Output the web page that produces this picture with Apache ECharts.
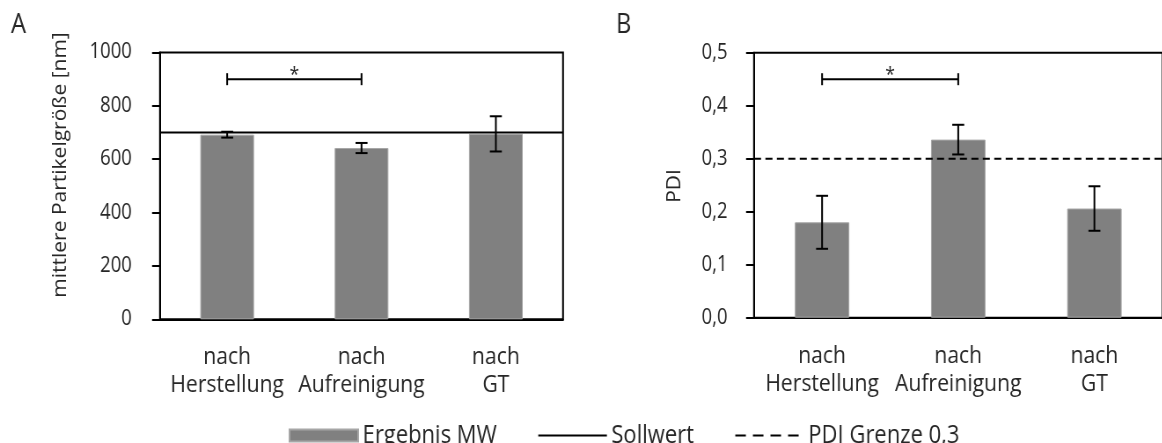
<!DOCTYPE html>
<html>
<head>
<meta charset="utf-8">
<script src="https://cdn.jsdelivr.net/npm/echarts@6/dist/echarts.min.js"></script>
<style>
  html, body { margin: 0; padding: 0; background: #fff; overflow: hidden; }
  #chart { width: 1321px; height: 443px; transform: scaleX(0.88); transform-origin: 0 0; }
</style>
</head>
<body>
<div id="chart"></div>
<script>
// ---- data ----
const CATEGORIES = ['nach\nHerstellung', 'nach\nAufreinigung', 'nach\nGT'];
const SIZE_MEAN = [692, 642, 695];
const SIZE_ERR = [11, 19, 66];
const SIZE_SOLL = 700;
const PDI_MEAN = [0.18, 0.336, 0.206];
const PDI_ERR = [0.05, 0.028, 0.042];
const PDI_LIMIT = 0.3;
const SIG_SIZE = [0, 1, 900];   // from category, to category, height
const SIG_PDI = [0, 1, 0.45];
const SIZE_AXIS = [0, 1000, 200];
const PDI_AXIS = [0, 0.5, 0.1];

const FONT = "'Open Sans', 'Noto Sans', sans-serif";
const TXT = '#262626';

const errData = (mean, err) => mean.map((m, i) => [i, m - err[i], m + err[i]]);

function renderErr(params, api) {
  const lo = api.coord([api.value(0), api.value(1)]);
  const hi = api.coord([api.value(0), api.value(2)]);
  const cap = 6.8;
  const st = { stroke: '#000', lineWidth: 2 };
  return { type: 'group', children: [
    { type: 'line', shape: { x1: lo[0], y1: lo[1], x2: hi[0], y2: hi[1] }, style: st },
    { type: 'line', shape: { x1: lo[0] - cap, y1: lo[1], x2: lo[0] + cap, y2: lo[1] }, style: st },
    { type: 'line', shape: { x1: hi[0] - cap, y1: hi[1], x2: hi[0] + cap, y2: hi[1] }, style: st }
  ]};
}

function renderSig(params, api) {
  const a = api.coord([api.value(0), api.value(2)]);
  const b = api.coord([api.value(1), api.value(2)]);
  const st = { stroke: '#000', lineWidth: 2 };
  return { type: 'group', children: [
    { type: 'line', shape: { x1: a[0], y1: a[1], x2: b[0], y2: b[1] }, style: st },
    { type: 'line', shape: { x1: a[0], y1: a[1] - 6, x2: a[0], y2: a[1] + 6 }, style: st },
    { type: 'line', shape: { x1: b[0], y1: b[1] - 6, x2: b[0], y2: b[1] + 6 }, style: st },
    { type: 'text', x: (a[0] + b[0]) / 2, y: a[1] - 4,
      style: { text: '*', fontSize: 20, fontFamily: FONT, fill: TXT, align: 'center', verticalAlign: 'middle' } }
  ]};
}

const axisLineStyle = { color: '#000', width: 2 };

function catAxis(gi) {
  return {
    gridIndex: gi, type: 'category', data: CATEGORIES,
    axisLine: { lineStyle: axisLineStyle }, axisTick: { show: false },
    axisLabel: { fontSize: 24, lineHeight: 28, margin: 24, color: TXT, fontFamily: FONT, interval: 0 }
  };
}
function hiddenX(gi) {
  return { gridIndex: gi, type: 'value', min: 0, max: 1, show: false };
}
function valAxis(gi, ax, margin, fmt) {
  return {
    gridIndex: gi, type: 'value', min: ax[0], max: ax[1], interval: ax[2],
    axisLine: { show: true, lineStyle: axisLineStyle },
    axisTick: { show: true, length: 9, lineStyle: axisLineStyle },
    splitLine: { show: false },
    axisLabel: { fontSize: 21, margin: margin, color: TXT, fontFamily: FONT, formatter: fmt }
  };
}

const chart = echarts.init(document.getElementById('chart'), null, { renderer: 'canvas' });
chart.setOption({
  animation: false,
  backgroundColor: '#fff',
  textStyle: { fontFamily: FONT },
  grid: [
    { left: 181.8, top: 52.5, width: 458, height: 266.8, show: true, borderColor: '#000', borderWidth: 2, backgroundColor: 'transparent' },
    { left: 856.8, top: 52.7, width: 471.6, height: 265, show: true, borderColor: '#000', borderWidth: 2, backgroundColor: 'transparent' }
  ],
  xAxis: [catAxis(0), hiddenX(0), catAxis(1), hiddenX(1)],
  yAxis: [
    valAxis(0, SIZE_AXIS, 32, v => String(v)),
    valAxis(1, PDI_AXIS, 30, v => v.toFixed(1).replace('.', ','))
  ],
  legend: {
    left: 323, top: 418, itemWidth: 78, itemHeight: 12, itemGap: 46,
    textStyle: { fontSize: 25, color: TXT, fontFamily: FONT },
    data: [
      { name: 'Ergebnis MW', icon: 'rect' },
      { name: 'Sollwert', itemStyle: { opacity: 0 } },
      { name: 'PDI Grenze 0,3', itemStyle: { opacity: 0 }, lineStyle: { type: [12, 8] } }
    ]
  },
  graphic: [
    { type: 'text', left: 12.5, top: 12, style: { text: 'A', fontSize: 27, fontFamily: FONT, fill: TXT } },
    { type: 'text', left: 700, top: 12, style: { text: 'B', fontSize: 27, fontFamily: FONT, fill: TXT } },
    { type: 'text', x: 69.3, y: 165, rotation: Math.PI / 2,
      style: { text: 'mittlere Partikelgröße [nm]', fontSize: 21, fontFamily: FONT, fill: TXT, align: 'center', verticalAlign: 'middle' } },
    { type: 'text', x: 767, y: 186, rotation: Math.PI / 2,
      style: { text: 'PDI', fontSize: 21, fontFamily: FONT, fill: TXT, align: 'center', verticalAlign: 'middle' } }
  ],
  series: [
    { name: 'Ergebnis MW', type: 'bar', xAxisIndex: 0, yAxisIndex: 0, data: SIZE_MEAN, barWidth: '40%',
      itemStyle: { color: '#808080', borderColor: '#a6a6a6', borderWidth: 1 } },
    { name: 'Sollwert', type: 'line', xAxisIndex: 1, yAxisIndex: 0, data: [[0, SIZE_SOLL], [1, SIZE_SOLL]],
      symbol: 'none', z: 3, lineStyle: { color: '#000', width: 2 }, itemStyle: { color: '#000' } },
    { type: 'custom', xAxisIndex: 0, yAxisIndex: 0, data: errData(SIZE_MEAN, SIZE_ERR), renderItem: renderErr, z: 5 },
    { type: 'custom', xAxisIndex: 0, yAxisIndex: 0, data: [SIG_SIZE], renderItem: renderSig, z: 5 },

    { name: 'Ergebnis MW', type: 'bar', xAxisIndex: 2, yAxisIndex: 1, data: PDI_MEAN, barWidth: '40%',
      itemStyle: { color: '#808080', borderColor: '#a6a6a6', borderWidth: 1 } },
    { name: 'PDI Grenze 0,3', type: 'line', xAxisIndex: 3, yAxisIndex: 1, data: [[0, PDI_LIMIT], [1, PDI_LIMIT]],
      symbol: 'none', z: 3, lineStyle: { color: '#000', width: 2, type: [8, 5] }, itemStyle: { color: '#000' } },
    { type: 'custom', xAxisIndex: 2, yAxisIndex: 1, data: errData(PDI_MEAN, PDI_ERR), renderItem: renderErr, z: 5 },
    { type: 'custom', xAxisIndex: 2, yAxisIndex: 1, data: [SIG_PDI], renderItem: renderSig, z: 5 }
  ]
});
</script>
</body>
</html>
